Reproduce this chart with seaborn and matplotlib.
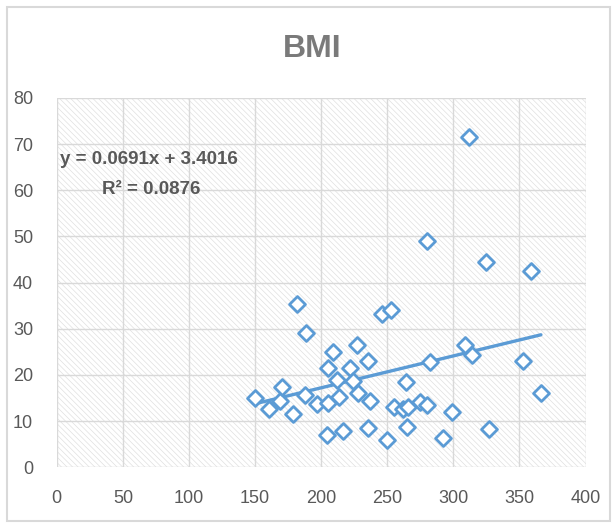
import matplotlib
matplotlib.use("Agg")
import matplotlib.pyplot as plt
import seaborn as sns
import pandas as pd
from matplotlib.patches import Rectangle

# ---- data ----
x_vals = [150.0, 160.7, 169.0, 170.0, 178.4, 181.5, 188.5, 188.0, 197.0, 204.5,
          205.5, 205.2, 209.3, 211.7, 213.8, 216.2, 222.0, 224.0, 227.3, 227.6,
          235.4, 236.6, 235.1, 246.3, 249.8, 253.1, 255.0, 261.6, 264.5, 265.8,
          265.1, 274.7, 279.8, 279.8, 282.3, 292.4, 299.2, 308.4, 312.0, 314.3,
          324.6, 327.2, 352.4, 359.0, 366.2]
bmi_vals = [15.1, 12.6, 14.4, 17.5, 11.6, 35.4, 29.1, 15.6, 13.7, 7.0,
            14.0, 21.5, 24.9, 19.0, 15.2, 7.9, 21.6, 18.8, 26.6, 16.2,
            23.1, 14.4, 8.5, 33.3, 5.9, 34.1, 13.1, 12.6, 18.4, 13.0,
            8.8, 14.1, 13.6, 49.0, 22.9, 6.4, 11.9, 26.6, 71.5, 24.4,
            44.5, 8.3, 23.1, 42.5, 16.1]
trend_slope = 0.0691
trend_intercept = 3.4016
r_squared = 0.0876
title_text = "BMI"
x_ticks = [0, 50, 100, 150, 200, 250, 300, 350, 400]
y_ticks = [0, 10, 20, 30, 40, 50, 60, 70, 80]

df = pd.DataFrame({"x": x_vals, "BMI": bmi_vals})
x_min, x_max = min(x_vals), max(x_vals)
trend_df = pd.DataFrame({"x": [x_min, x_max],
                         "y": [trend_slope * x_min + trend_intercept,
                               trend_slope * x_max + trend_intercept]})

sns.set_style("white")
plt.rcParams["hatch.linewidth"] = 0.5
plt.rcParams["hatch.color"] = "#e0e0e0"
narrow = ["Liberation Sans Narrow", "Liberation Sans", "DejaVu Sans"]

fig = plt.figure(figsize=(6.14, 5.23), dpi=100)
fig.patch.set_facecolor("white")
# outer chart border
fig.patches.append(Rectangle((7 / 614, 2 / 523), 603 / 614, 514 / 523,
                             transform=fig.transFigure, fill=False,
                             edgecolor="#d9d9d9", linewidth=1.5))

ax = fig.add_axes([56.8 / 614, 1 - 467.3 / 523, 528.8 / 614, 369.3 / 523])
ax.set_facecolor("white")
ax.add_patch(Rectangle((0, 0), 1, 1, transform=ax.transAxes, facecolor="white",
                       hatch="\\" * 6, edgecolor="#e0e0e0", linewidth=0, zorder=0))

sns.lineplot(data=trend_df, x="x", y="y", ax=ax, color="#5B9BD5",
             linewidth=2.4, zorder=3)
sns.scatterplot(data=df, x="x", y="BMI", ax=ax, marker="D", s=66,
                facecolor="white", edgecolor="#5B9BD5", linewidth=2.0, zorder=4)

ax.set_xlim(0, 400)
ax.set_ylim(0, 80)
ax.set_xticks(x_ticks)
ax.set_yticks(y_ticks)
ax.set_xticklabels([str(t) for t in x_ticks], family=narrow, fontsize=13, color="#595959")
ax.set_yticklabels([str(t) for t in y_ticks], family=narrow, fontsize=13, color="#595959")
ax.tick_params(axis="both", length=0)
ax.tick_params(axis="x", pad=16)
ax.tick_params(axis="y", pad=17)
ax.grid(True, color="#d9d9d9", linewidth=1.0, zorder=1)
ax.set_axisbelow(True)
for sp in ax.spines.values():
    sp.set_visible(False)
ax.set_xlabel("")
ax.set_ylabel("")

fig.text(312 / 614, 1 - 49 / 523, title_text, ha="center", va="center",
         fontsize=23, fontweight="bold", color="#7a7a7a",
         family=["Liberation Sans", "DejaVu Sans"])

ax.text(60 / 614, 1 - 159 / 523, f"y = {trend_slope}x + {trend_intercept}",
        transform=fig.transFigure, ha="left", va="center", fontsize=13.5,
        fontweight="bold", color="#595959", family=narrow, zorder=5)
ax.text(102 / 614, 1 - 190 / 523, f"R² = {r_squared}",
        transform=fig.transFigure, ha="left", va="center", fontsize=13.5,
        fontweight="bold", color="#595959", family=narrow, zorder=5)

fig.savefig("out.png", dpi=100, facecolor="white")
